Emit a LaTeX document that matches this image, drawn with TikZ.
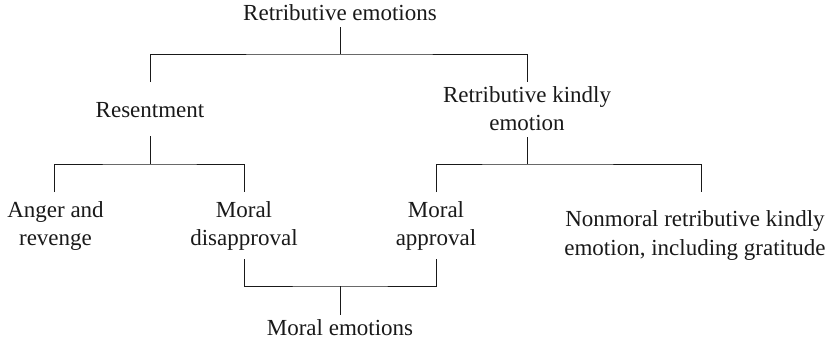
\documentclass[tikz,border=0pt]{standalone}
\usepackage{fontspec}
\setmainfont{Liberation Serif}
\newfontfamily\tnr{Liberation Serif}
\begin{document}
\begin{tikzpicture}[x=1pt,y=-1pt,
  lbl/.style={inner sep=0pt, align=center, font=\tnr\fontsize{23}{28.5}\selectfont, text=black!90},
  conn/.style={line width=0.9pt, draw=black!90}]
\useasboundingbox (0,0) rectangle (840,343);
% nodes
\node[lbl] (top)  at (340,13)    {Retributive emotions};
\node[lbl] (res)  at (150,110)   {Resentment};
\node[lbl] (rk)   at (527,108.5) {Retributive kindly\\emotion};
\node[lbl] (ang)  at (55.5,226)  {Anger and\\revenge};
\node[lbl] (mdis) at (244,226)   {Moral\\disapproval};
\node[lbl] (mapp) at (436,226)   {Moral\\approval};
\node[lbl] (nm)   at (695,235.5) {Nonmoral retributive kindly\\emotion, including gratitude};
\node[lbl] (me)   at (340,328)   {Moral emotions};
% junctions
\coordinate (j0) at (340,54);
\coordinate (j1) at (150,164);
\coordinate (j2) at (527,164);
\coordinate (j3) at (340,286);
% connectors
\draw[conn] ([yshift=-14pt]top.center) -- (j0);
\draw[conn] ([yshift=28pt]res.center) |- (j0) -| ([yshift=26.5pt]rk.center);
\draw[conn] ([yshift=-26pt]res.center) -- (j1);
\draw[conn] ([xshift=-1.5pt,yshift=34pt]ang.center) |- (j1) -| ([yshift=34pt]mdis.center);
\draw[conn] ([yshift=-28.5pt]rk.center) -- (j2);
\draw[conn] ([yshift=34pt]mapp.center) |- (j2) -| ([xshift=6pt,yshift=43.5pt]nm.center);
\draw[conn] ([yshift=-33pt]mdis.center) |- (j3) -| ([yshift=-33pt]mapp.center);
\draw[conn] (j3) -- ([yshift=13pt]me.center);
\end{tikzpicture}
\end{document}
